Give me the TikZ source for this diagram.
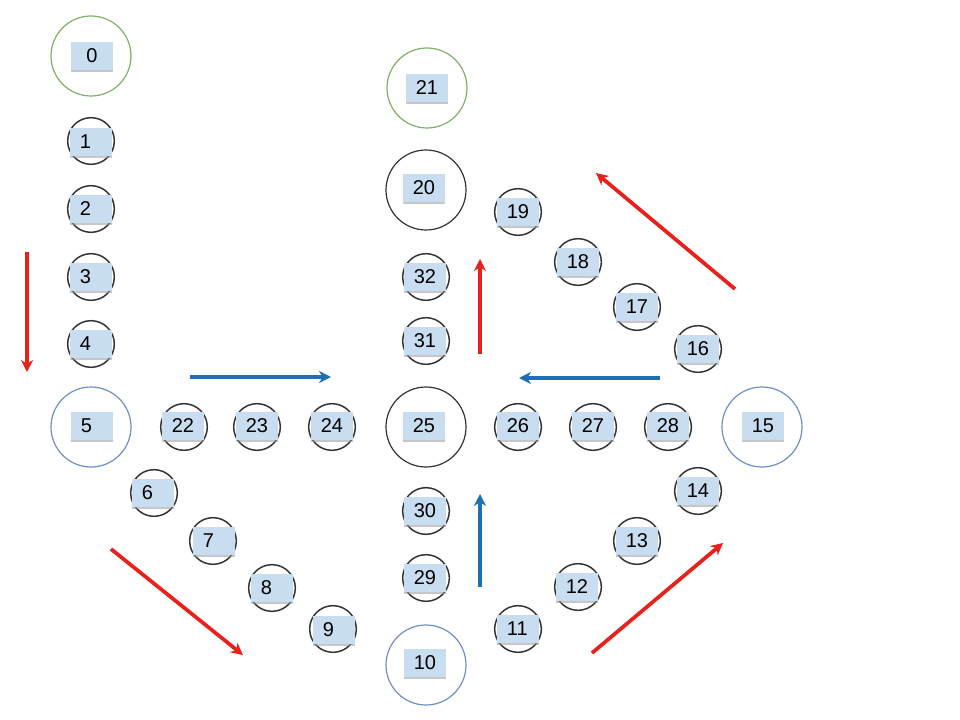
\documentclass[tikz,border=0pt]{standalone}
\usepackage{fontspec}
\setmainfont{Liberation Sans}
\usetikzlibrary{shadows,arrows.meta}
\definecolor{boxfill}{HTML}{C9DDF1}
\definecolor{cgreen}{HTML}{7FB069}
\definecolor{cblue}{HTML}{6F8FC9}
\definecolor{cblack}{HTML}{333333}
\definecolor{ared}{HTML}{E8211C}
\definecolor{ablue}{HTML}{1F6FB4}
\tikzset{
  smallc/.style={circle,draw=cblack,line width=1.1pt,minimum size=35pt,inner sep=0pt},
  bigc/.style={circle,line width=0.9pt,minimum size=60pt,inner sep=0pt},
  lbl/.style={rectangle,fill=boxfill,minimum height=21pt,inner xsep=7.7pt,inner ysep=0pt,
    text width=16.7pt,align=left,
    font=\fontsize{15}{17}\selectfont,
    drop shadow={shadow xshift=0pt,shadow yshift=-1.8pt,fill=black!40,opacity=0.55}},
  redarr/.style={draw=ared,line width=2.8pt,-{Stealth[length=9pt,width=9pt]}},
  bluearr/.style={draw=ablue,line width=2.8pt,-{Stealth[length=9pt,width=9pt]}},
}
\begin{document}
\begin{tikzpicture}[x=0.75pt,y=-0.75pt]
\useasboundingbox (0,0) rectangle (960,720);
% big circles
\node[bigc,draw=cgreen] (c0) at (91,56) {};
\node[bigc,draw=cgreen] (c21) at (427,88) {};
\node[bigc,draw=cblack] (c20) at (426,190) {};
\node[bigc,draw=cblue] (c5) at (91,427) {};
\node[bigc,draw=cblack] (c25) at (426,427) {};
\node[bigc,draw=cblue] (c15) at (762,427) {};
\node[bigc,draw=cblue] (c10) at (426,665) {};
% small circles
\foreach \n/\x/\y in {1/91/141,2/91/209,3/91/277,4/91/344,22/184/427,23/257/427,24/332/427,
  26/518/427,27/593/427,28/668/427,6/154/493,7/213/541,8/272/588,9/333/629,
  11/518/629,12/578/587,13/637/541,14/698/491,16/698/349,17/637/307,18/578/262,19/518/212,
  29/426/578,30/426/511,31/426/341,32/426/277}
  \node[smallc] (c\n) at (\x,\y) {};
% labels
\node[lbl,align=center] (b0) at (92,56) {0};
\foreach \n/\x/\y in {21/427/88,20/424/188,5/92/426,25/424/426,15/763/426,10/425/663,
  1/91/142,2/91/209,3/91/277,4/91/344,22/183/426,23/257/426,24/332/426,
  26/518/426,27/593/426,28/668/426,6/153/493,7/214/541,8/272/588,9/334/630,
  11/518/629,12/577/587,13/637/541,14/698/491,16/698/349,17/637/307,18/578/262,19/518/212,
  29/425/578,30/425/511,31/425/341,32/425/277}
  \node[lbl] (b\n) at (\x,\y) {\n};
% arrows
\coordinate (a1s) at (27,252); \coordinate (a1e) at (27,372);
\coordinate (a2s) at (190,377); \coordinate (a2e) at (331,377);
\coordinate (a3s) at (111,549); \coordinate (a3e) at (243,655);
\coordinate (a4s) at (480,587); \coordinate (a4e) at (480,494);
\coordinate (a5s) at (480,354); \coordinate (a5e) at (480,259);
\coordinate (a6s) at (660,378); \coordinate (a6e) at (519,378);
\coordinate (a7s) at (735,289); \coordinate (a7e) at (596,173);
\coordinate (a8s) at (592,653); \coordinate (a8e) at (723,543);
\draw[redarr] (a1s) -- (a1e);
\draw[bluearr] (a2s) -- (a2e);
\draw[redarr] (a3s) -- (a3e);
\draw[bluearr] (a4s) -- (a4e);
\draw[redarr] (a5s) -- (a5e);
\draw[bluearr] (a6s) -- (a6e);
\draw[redarr] (a7s) -- (a7e);
\draw[redarr] (a8s) -- (a8e);
\end{tikzpicture}
\end{document}
